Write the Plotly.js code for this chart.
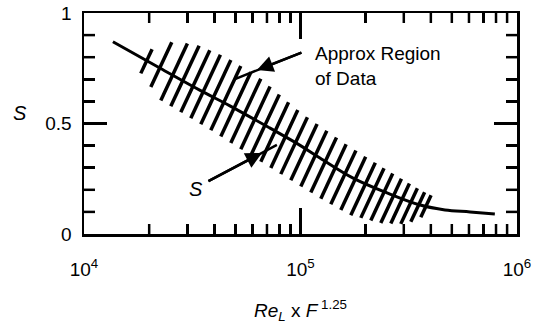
<!DOCTYPE html>
<html><head><meta charset="utf-8">
<script src="https://cdn.plot.ly/plotly-3.0.1.min.js"></script>
<style>html,body{margin:0;padding:0;background:#fff;} #chart{width:534px;height:323px;}</style>
</head><body><div id="chart"></div>
<script>
// Mean curve S vs Re_L x F^1.25
const curveX = [13600, 22500, 34400, 47200, 72000, 100000, 123000, 175000, 251000, 357000, 465000, 607000, 790000];
const curveS = [0.87, 0.75, 0.65, 0.58, 0.48, 0.40, 0.344, 0.253, 0.186, 0.131, 0.109, 0.100, 0.090];
// Approximate region of data: upper and lower edges
const upperX = [20200, 26300, 34400, 46200, 65000, 99500, 164000, 259000, 357000, 418000];
const upperS = [0.833, 0.873, 0.851, 0.796, 0.706, 0.552, 0.403, 0.281, 0.199, 0.167];
const lowerX = [18100, 22500, 26900, 37000, 58500, 99500, 127000, 169000, 233000, 304000, 357000, 396000];
const lowerS = [0.733, 0.606, 0.561, 0.480, 0.357, 0.217, 0.154, 0.086, 0.050, 0.045, 0.072, 0.131];
// Ticks
const xTickVals = [1e4, 1e5, 1e6];
const xTickText = ['10<sup>4</sup>', '10<sup>5</sup>', '10<sup>6</sup>'];
const yTickVals = [0, 0.5, 1];
const yTickText = ['0', '0.5', '1'];

const W = 534, H = 323, M = {l: 84, r: 17, t: 13, b: 89};
const PW = W - M.l - M.r, PH = H - M.t - M.b;
const X0 = 4, X1 = 6;
const px = x => (Math.log10(x) - X0) / (X1 - X0) * PW;
const py = s => (1 - s) * PH;
const ix = p => Math.pow(10, X0 + p / PW * (X1 - X0));
const iy = q => 1 - q / PH;
function interp(xs, ys, v) {
  if (v <= xs[0]) return ys[0];
  if (v >= xs[xs.length - 1]) return ys[ys.length - 1];
  for (let i = 1; i < xs.length; i++) {
    if (v <= xs[i]) { const t = (v - xs[i - 1]) / (xs[i] - xs[i - 1]); return ys[i - 1] + t * (ys[i] - ys[i - 1]); }
  }
}
// hatching of the data region, built from the two edges
const lowP = lowerX.map(px), lowQ = lowerS.map(py), upP = upperX.map(px), upQ = upperS.map(py);
const HATCH_GAP = 10, SLOPE = 2.14;
const hx = [], hy = [];
for (let p = lowP[0] + 1; p <= lowP[lowP.length - 1]; p += HATCH_GAP) {
  const qb = interp(lowP, lowQ, p);
  let pt = p;
  for (let i = 0; i < 8; i++) { const qt = interp(upP, upQ, pt); pt = p + (qb - qt) / SLOPE; }
  pt = Math.min(Math.max(pt, upP[0]), upP[upP.length - 1]);
  const qt = interp(upP, upQ, pt);
  if (qb - qt < 4) continue;
  hx.push(ix(p), ix(pt), null); hy.push(iy(qb), iy(qt), null);
}

// inside tick marks on all four sides (axis-domain coordinates)
const TW = 2.5;
const tickShapes = [];
function xTick(v, len) {
  const f = (Math.log10(v) - X0) / (X1 - X0), d = len / PH;
  tickShapes.push({type: 'line', xref: 'x domain', yref: 'y domain', x0: f, x1: f, y0: 0, y1: d, line: {color: '#000', width: TW}, layer: 'above'});
  tickShapes.push({type: 'line', xref: 'x domain', yref: 'y domain', x0: f, x1: f, y0: 1, y1: 1 - d, line: {color: '#000', width: TW}, layer: 'above'});
}
function yTick(v, len) {
  const d = len / PW;
  tickShapes.push({type: 'line', xref: 'x domain', yref: 'y domain', x0: 0, x1: d, y0: v, y1: v, line: {color: '#000', width: TW}, layer: 'above'});
  tickShapes.push({type: 'line', xref: 'x domain', yref: 'y domain', x0: 1, x1: 1 - d, y0: v, y1: v, line: {color: '#000', width: TW}, layer: 'above'});
}
xTickVals.slice(1, -1).forEach(v => xTick(v, 26));
for (let i = 0; i < xTickVals.length - 1; i++) for (let m = 2; m <= 9; m++) xTick(m * xTickVals[i], 10);
yTickVals.slice(1, -1).forEach(v => yTick(v, 23));
for (let k = 1; k <= 9; k++) { const v = k / 10; if (!yTickVals.some(t => Math.abs(t - v) < 1e-9)) yTick(v, 11); }

const FONT = 'Liberation Sans, Arial, Helvetica, sans-serif';
const traces = [
  {x: hx, y: hy, mode: 'lines', line: {color: '#000', width: 3.5}, hoverinfo: 'skip'},
  {x: curveX, y: curveS, mode: 'lines', line: {color: '#000', width: 3, shape: 'spline'}}
];
const axCommon = {
  showline: true, linecolor: '#000', linewidth: 2.5, mirror: 'ticks',
  ticks: 'inside', tickcolor: '#000', tickwidth: 2.5, showgrid: false, zeroline: false,
  tickfont: {family: FONT, size: 19, color: '#000'}, automargin: false
};
const layout = {
  width: W, height: H, margin: M, showlegend: false,
  xaxis: Object.assign({}, axCommon, {
    type: 'log', range: [X0, X1], tickvals: xTickVals, ticktext: xTickText, ticklen: 26,
    ticklabelstandoff: 17,
    minor: {ticks: 'inside', ticklen: 10, dtick: 'D1'}
  }),
  yaxis: Object.assign({}, axCommon, {
    range: [0, 1], tickvals: yTickVals, ticktext: yTickText, ticklen: 23, ticklabelstandoff: 6,
    minor: {ticks: 'inside', ticklen: 11, dtick: 0.1}
  }),
  shapes: tickShapes,
  annotations: [
    // axis titles
    {x: 0.5, y: -0.348, xref: 'paper', yref: 'paper', text: '<i>Re<sub>L</sub></i> x <i>F</i><sup> 1.25</sup>', showarrow: false,
     xanchor: 'center', yanchor: 'middle', font: {family: FONT, size: 19, color: '#000'}},
    {x: -0.148, y: 0.548, xref: 'paper', yref: 'paper', text: '<i>S</i>', showarrow: false,
     xanchor: 'center', yanchor: 'middle', font: {family: FONT, size: 20, color: '#000'}},
    // labels and arrows
    {x: 5.058, y: 0.760, xref: 'x', yref: 'y', text: 'Approx Region<br>of Data', showarrow: false,
     xanchor: 'left', yanchor: 'middle', align: 'left', font: {family: FONT, size: 19, color: '#000'}},
    {x: 4.697, y: 0.701, xref: 'x', yref: 'y', text: '', showarrow: true, arrowhead: 0, arrowwidth: 2.5, arrowcolor: '#000', ax: 68, ay: -27},
    {x: 4.799, y: 0.742, xref: 'x', yref: 'y', text: '', showarrow: true, arrowhead: 2, arrowsize: 1.3, arrowwidth: 2.5, arrowcolor: '#000', ax: 46, ay: -18},
    {x: 4.517, y: 0.204, xref: 'x', yref: 'y', text: '<i>S</i>', showarrow: false, font: {family: FONT, size: 20, color: '#000'}},
    {x: 4.891, y: 0.403, xref: 'x', yref: 'y', text: '', showarrow: true, arrowhead: 0, arrowwidth: 2.5, arrowcolor: '#000', ax: -70, ay: 37},
    {x: 4.822, y: 0.367, xref: 'x', yref: 'y', text: '', showarrow: true, arrowhead: 2, arrowsize: 1.3, arrowwidth: 2.5, arrowcolor: '#000', ax: -55, ay: 29}
  ]
};
Plotly.newPlot('chart', traces, layout, {displayModeBar: false, staticPlot: true});
</script>
</body></html>
